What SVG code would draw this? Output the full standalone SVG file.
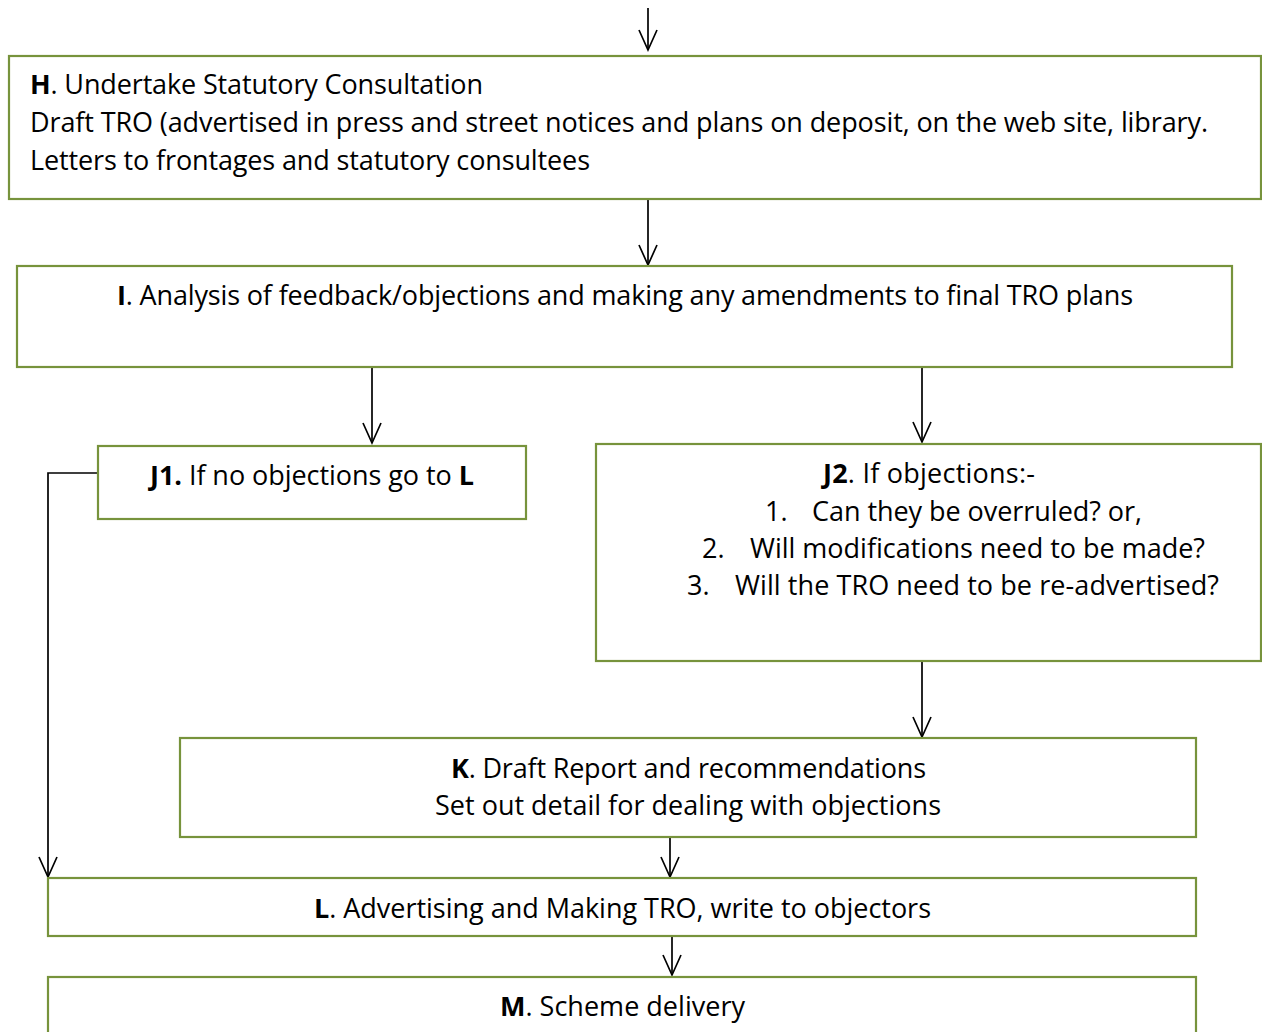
<svg xmlns="http://www.w3.org/2000/svg" width="1262" height="1032" viewBox="0 0 1262 1032">
<style>
.box{fill:#ffffff;stroke:#77933C;stroke-width:2.2}
.t{font-family:"Open Sans","Liberation Sans",sans-serif;font-size:27px;fill:#000000}
.b{font-weight:bold}
.c{fill:none;stroke:#000000;stroke-width:1.7}
</style>
<defs>
<marker id="arr" markerUnits="userSpaceOnUse" markerWidth="24" markerHeight="24" viewBox="-2 -12 24 24" refX="20" refY="0" orient="auto" overflow="visible">
<path d="M0,-9 L20,0 L0,9" fill="none" stroke="#000000" stroke-width="1.7"/>
</marker>
</defs>
<rect width="1262" height="1032" fill="#ffffff"/>
<g id="connectors">
<line class="c" x1="648" y1="8" x2="648" y2="50" marker-end="url(#arr)"/>
<line class="c" x1="648" y1="200" x2="648" y2="265" marker-end="url(#arr)"/>
<line class="c" x1="372" y1="368" x2="372" y2="443" marker-end="url(#arr)"/>
<line class="c" x1="922" y1="368" x2="922" y2="442" marker-end="url(#arr)"/>
<polyline class="c" points="98,473 48,473 48,877" marker-end="url(#arr)"/>
<line class="c" x1="922" y1="662" x2="922" y2="737" marker-end="url(#arr)"/>
<line class="c" x1="670" y1="838" x2="670" y2="877" marker-end="url(#arr)"/>
<line class="c" x1="672" y1="937" x2="672" y2="975" marker-end="url(#arr)"/>
</g>
<g id="nodeH">
<rect class="box" x="9" y="56" width="1252" height="143"/>
<text class="t" x="30" y="94" textLength="453"><tspan class="b">H</tspan>. Undertake Statutory Consultation</text>
<text class="t" x="30" y="132" textLength="1178">Draft TRO (advertised in press and street notices and plans on deposit, on the web site, library.</text>
<text class="t" x="30" y="170" textLength="560">Letters to frontages and statutory consultees</text>
</g>
<g id="nodeI">
<rect class="box" x="17" y="266" width="1215" height="101"/>
<text class="t" x="117" y="305" textLength="1016"><tspan class="b">I</tspan>. Analysis of feedback/objections and making any amendments to final TRO plans</text>
</g>
<g id="nodeJ1">
<rect class="box" x="98" y="446" width="428" height="73"/>
<text class="t" x="150" y="485" textLength="324"><tspan class="b">J1.</tspan> If no objections go to <tspan class="b">L</tspan></text>
</g>
<g id="nodeJ2">
<rect class="box" x="596" y="444" width="665" height="217"/>
<text class="t" x="823" y="483" textLength="212"><tspan class="b">J2</tspan>. If objections:-</text>
<text class="t" x="765" y="521">1.</text>
<text class="t" x="812" y="521" textLength="330">Can they be overruled? or,</text>
<text class="t" x="702" y="558">2.</text>
<text class="t" x="750" y="558" textLength="455">Will modifications need to be made?</text>
<text class="t" x="687" y="595">3.</text>
<text class="t" x="735" y="595" textLength="484">Will the TRO need to be re-advertised?</text>
</g>
<g id="nodeK">
<rect class="box" x="180" y="738" width="1016" height="99"/>
<text class="t" x="451" y="778" textLength="475"><tspan class="b">K</tspan>. Draft Report and recommendations</text>
<text class="t" x="435" y="815" textLength="506">Set out detail for dealing with objections</text>
</g>
<g id="nodeL">
<rect class="box" x="48" y="878" width="1148" height="58"/>
<text class="t" x="314" y="918" textLength="617"><tspan class="b">L</tspan>. Advertising and Making TRO, write to objectors</text>
</g>
<g id="nodeM">
<rect class="box" x="48" y="977" width="1148" height="70"/>
<text class="t" x="500" y="1016" textLength="245"><tspan class="b">M</tspan>. Scheme delivery</text>
</g>
</svg>
